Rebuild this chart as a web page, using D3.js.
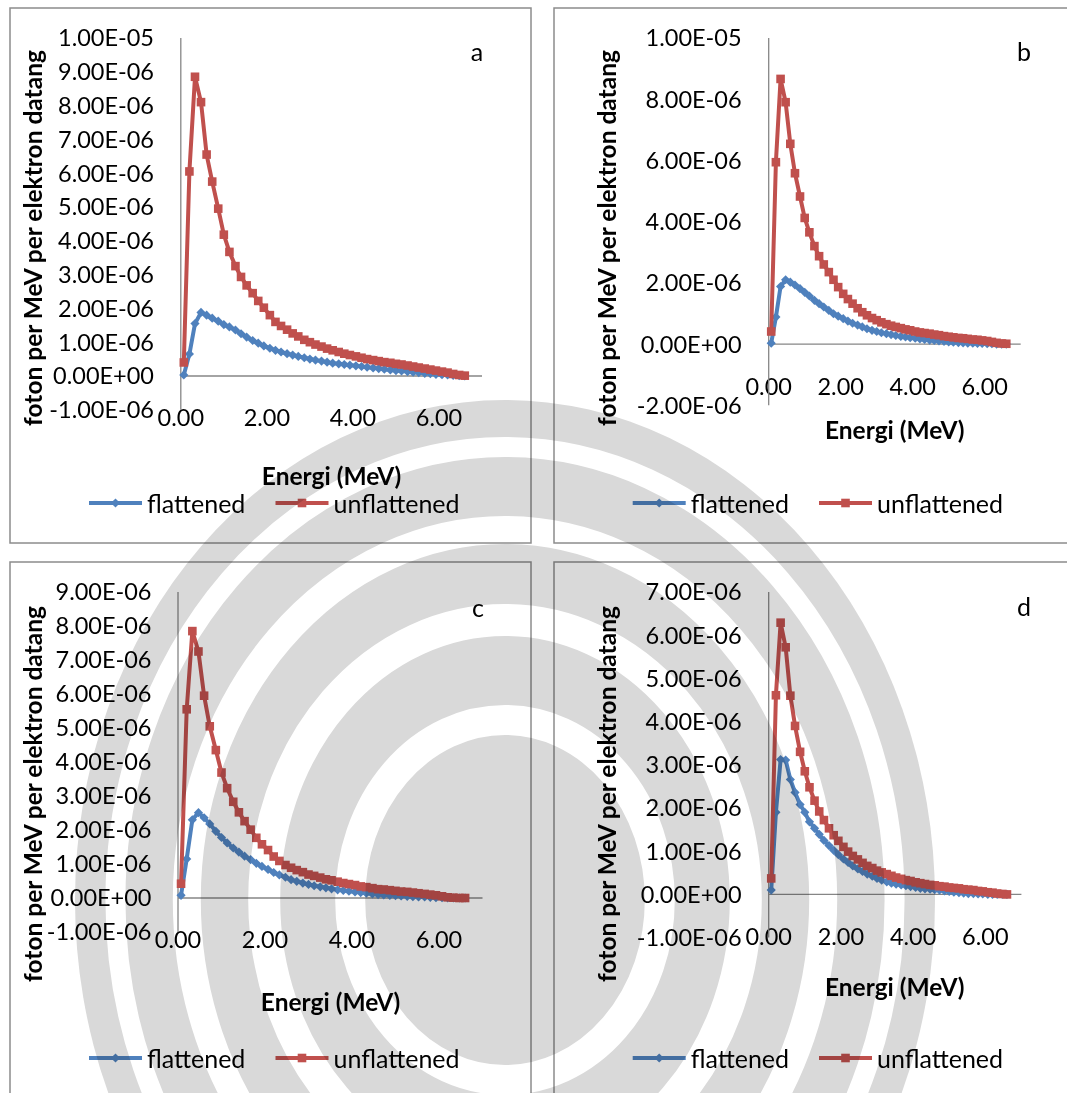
<!DOCTYPE html>
<html>
<head>
<meta charset="utf-8">
<script src="https://cdn.jsdelivr.net/npm/d3@7"></script>
<style>
  body { margin: 0; background: #fff; }
  text { font-family: Lato, "Open Sans", sans-serif; fill: #000; }
  .tick-label { font-size: 23.5px; }
  .axis-title { font-size: 24.5px; font-weight: bold; }
  .legend { font-size: 25px; }
  .panel-letter { font-size: 25px; }
</style>
</head>
<body>
<svg id="chart" width="1067" height="1093"></svg>
<script>
// energy bin centres (MeV), shared by every panel
const energi = [0.07, 0.20, 0.33, 0.47, 0.60, 0.73, 0.87, 1.00, 1.13, 1.27,
                1.40, 1.53, 1.67, 1.80, 1.93, 2.07, 2.20, 2.33, 2.47, 2.60,
                2.73, 2.87, 3.00, 3.13, 3.27, 3.40, 3.53, 3.67, 3.80, 3.93,
                4.07, 4.20, 4.33, 4.47, 4.60, 4.73, 4.87, 5.00, 5.13, 5.27,
                5.40, 5.53, 5.67, 5.80, 5.93, 6.07, 6.20, 6.33, 6.47, 6.60];

// photon fluence, in units of 1e-6 per MeV per incident electron
const flatA = [0.03, 0.65, 1.55, 1.88, 1.80, 1.71, 1.62, 1.52, 1.45, 1.36,
               1.25, 1.15, 1.05, 0.97, 0.89, 0.82, 0.76, 0.71, 0.66, 0.62,
               0.58, 0.54, 0.50, 0.47, 0.44, 0.41, 0.38, 0.36, 0.34, 0.32,
               0.30, 0.28, 0.26, 0.24, 0.22, 0.20, 0.18, 0.16, 0.15, 0.13,
               0.11, 0.10, 0.08, 0.07, 0.05, 0.04, 0.03, 0.02, 0.01, 0.00];
const unflatA = [0.40, 6.05, 8.85, 8.10, 6.55, 5.75, 4.95, 4.18, 3.67, 3.25,
                 2.93, 2.68, 2.45, 2.22, 2.02, 1.80, 1.60, 1.48, 1.37, 1.26,
                 1.17, 1.07, 1.00, 0.93, 0.87, 0.81, 0.76, 0.71, 0.66, 0.62,
                 0.58, 0.54, 0.50, 0.47, 0.44, 0.41, 0.39, 0.36, 0.34, 0.31,
                 0.28, 0.25, 0.22, 0.19, 0.16, 0.13, 0.10, 0.06, 0.03, 0.01];

const flatB = [0.03, 0.88, 1.88, 2.10, 2.02, 1.93, 1.81, 1.69, 1.57, 1.43,
               1.32, 1.21, 1.10, 0.99, 0.91, 0.83, 0.75, 0.68, 0.62, 0.56,
               0.50, 0.45, 0.41, 0.37, 0.34, 0.31, 0.28, 0.25, 0.23, 0.21,
               0.19, 0.17, 0.15, 0.13, 0.12, 0.10, 0.09, 0.07, 0.06, 0.05,
               0.04, 0.03, 0.03, 0.02, 0.02, 0.01, 0.01, 0.00, 0.00, 0.00];
const unflatB = [0.41, 5.94, 8.66, 7.90, 6.54, 5.58, 4.82, 4.12, 3.65, 3.20,
                 2.87, 2.60, 2.35, 2.10, 1.86, 1.64, 1.47, 1.32, 1.17, 1.04,
                 0.94, 0.85, 0.78, 0.71, 0.65, 0.60, 0.56, 0.52, 0.48, 0.45,
                 0.41, 0.38, 0.36, 0.34, 0.31, 0.29, 0.26, 0.24, 0.22, 0.20,
                 0.19, 0.17, 0.15, 0.14, 0.12, 0.10, 0.07, 0.04, 0.02, 0.01];

const flatC = [0.08, 1.15, 2.30, 2.51, 2.36, 2.18, 1.96, 1.78, 1.62, 1.47,
               1.35, 1.23, 1.13, 1.02, 0.93, 0.84, 0.75, 0.68, 0.61, 0.54,
               0.49, 0.44, 0.40, 0.36, 0.33, 0.30, 0.27, 0.24, 0.22, 0.20,
               0.18, 0.16, 0.14, 0.12, 0.10, 0.09, 0.08, 0.07, 0.06, 0.05,
               0.04, 0.03, 0.03, 0.02, 0.01, 0.01, 0.00, 0.00, 0.00, 0.00];
const unflatC = [0.42, 5.55, 7.85, 7.25, 5.95, 5.05, 4.35, 3.69, 3.23, 2.83,
                 2.52, 2.26, 2.01, 1.77, 1.58, 1.41, 1.22, 1.09, 0.97, 0.89,
                 0.82, 0.76, 0.69, 0.65, 0.60, 0.55, 0.52, 0.48, 0.44, 0.41,
                 0.38, 0.34, 0.32, 0.29, 0.26, 0.25, 0.23, 0.21, 0.19, 0.18,
                 0.16, 0.14, 0.12, 0.10, 0.08, 0.05, 0.02, 0.01, 0.00, 0.00];

const flatD = [0.10, 1.90, 3.12, 3.11, 2.66, 2.36, 2.08, 1.90, 1.68, 1.53,
               1.39, 1.25, 1.13, 1.02, 0.92, 0.82, 0.74, 0.66, 0.59, 0.53,
               0.47, 0.42, 0.37, 0.33, 0.29, 0.26, 0.24, 0.22, 0.20, 0.18,
               0.16, 0.14, 0.13, 0.12, 0.11, 0.10, 0.08, 0.07, 0.05, 0.04,
               0.03, 0.02, 0.02, 0.01, 0.01, 0.00, 0.00, 0.00, 0.00, 0.00];
const unflatD = [0.37, 4.61, 6.29, 5.72, 4.60, 3.90, 3.30, 2.85, 2.48, 2.17,
                 1.92, 1.72, 1.53, 1.37, 1.24, 1.10, 0.99, 0.89, 0.81, 0.73,
                 0.66, 0.61, 0.55, 0.51, 0.47, 0.43, 0.39, 0.36, 0.33, 0.31,
                 0.28, 0.26, 0.24, 0.22, 0.21, 0.19, 0.18, 0.16, 0.15, 0.14,
                 0.12, 0.11, 0.10, 0.08, 0.07, 0.05, 0.04, 0.02, 0.01, 0.00];

const xTicks = [0, 2, 4, 6];
const seriesNames = ["flattened", "unflattened"];
const flatColor = "#4F81BD";
const unflatColor = "#C0504D";

// one entry per sub-chart (y values in units of 1e-6)
const panels = [
  {letter: "a", flat: flatA, unflat: unflatA, yMin: -1, yMax: 10, yStep: 1,
   frame: [10, 8, 521, 535], xRange: [180.8, 482], yRange: [409.8, 37.9],
   tickRight: 154, yTitle: [33, 238], xTitle: [331.6, 476.5], legendY: 503,
   legendX: [89, 275.5], letterPos: [477, 52]},
  {letter: "b", flat: flatB, unflat: unflatB, yMin: -2, yMax: 10, yStep: 2,
   frame: [554, 8, 530, 535], xRange: [768.7, 1020.7], yRange: [405.3, 37.9],
   tickRight: 741.6, yTitle: [607, 238], xTitle: [894.7, 430.5], legendY: 503,
   legendX: [632.7, 819], letterPos: [1024, 52]},
  {letter: "c", flat: flatC, unflat: unflatC, yMin: -1, yMax: 9, yStep: 1,
   frame: [10, 562, 521, 545], xRange: [178, 482.5], yRange: [932, 592],
   tickRight: 151.5, yTitle: [33, 794], xTitle: [330.6, 1002], legendY: 1058,
   legendX: [89, 275.5], letterPos: [478, 608]},
  {letter: "d", flat: flatD, unflat: unflatD, yMin: -1, yMax: 7, yStep: 1,
   frame: [554, 562, 530, 545], xRange: [768.7, 1021.4], yRange: [937.6, 592],
   tickRight: 741.6, yTitle: [607, 794], xTitle: [894.7, 987], legendY: 1058,
   legendX: [632.7, 819], letterPos: [1024, 607]}
];

const svg = d3.select("#chart");

// Excel style "0.00E+00"
function sci(v) {
  const s = (v * 1e-6).toExponential(2).split("e");
  const e = +s[1];
  return s[0] + "E" + (e < 0 ? "-" : "+") + String(Math.abs(e)).padStart(2, "0");
}

const diamond = r => `M0,${-r}L${r},0L0,${r}L${-r},0Z`;
const square = r => `M${-r},${-r}H${r}V${r}H${-r}Z`;

function drawMarker(g, shape, color, x, y) {
  g.append("path")
    .attr("d", shape === "diamond" ? diamond(4.6) : square(4.3))
    .attr("transform", `translate(${x},${y})`)
    .attr("fill", color);
}

panels.forEach(p => {
  const g = svg.append("g").attr("class", "panel-" + p.letter);

  // chart frame
  g.append("rect")
    .attr("x", p.frame[0]).attr("y", p.frame[1])
    .attr("width", p.frame[2]).attr("height", p.frame[3])
    .attr("fill", "#fff")
    .attr("stroke", "#8c8c8c")
    .attr("stroke-width", 1.5);

  const x = d3.scaleLinear().domain([0, 7]).range(p.xRange);
  const y = d3.scaleLinear().domain([p.yMin, p.yMax]).range(p.yRange);

  // y tick labels
  const yTicks = d3.range(Math.round((p.yMax - p.yMin) / p.yStep) + 1)
    .map(i => p.yMin + i * p.yStep);
  g.selectAll(".ytick")
    .data(yTicks)
    .join("text")
    .attr("class", "tick-label")
    .attr("x", p.tickRight)
    .attr("y", d => y(d))
    .attr("dy", "0.36em")
    .attr("text-anchor", "end")
    .text(d => sci(d));

  // x tick labels sit well below the zero line
  g.selectAll(".xtick")
    .data(xTicks)
    .join("text")
    .attr("class", "tick-label")
    .attr("x", d => x(d))
    .attr("y", y(0) + 42)
    .attr("dy", "0.36em")
    .attr("text-anchor", "middle")
    .text(d => d.toFixed(2));

  // axes lines
  g.append("line")
    .attr("x1", x(0)).attr("x2", x(0))
    .attr("y1", y(p.yMax)).attr("y2", y(p.yMin))
    .attr("stroke", "#868686").attr("stroke-width", 1.3);
  g.append("line")
    .attr("x1", x(0)).attr("x2", x(7))
    .attr("y1", y(0)).attr("y2", y(0))
    .attr("stroke", "#868686").attr("stroke-width", 1.3);

  const line = d3.line()
    .x((d, i) => x(energi[i]))
    .y(d => y(d));

  // flattened first, unflattened drawn on top
  [[p.flat, flatColor, "diamond"], [p.unflat, unflatColor, "square"]].forEach(([vals, color, shape]) => {
    g.append("path")
      .datum(vals)
      .attr("d", line)
      .attr("fill", "none")
      .attr("stroke", color)
      .attr("stroke-width", 4)
      .attr("stroke-linejoin", "round");
    const mg = g.append("g");
    vals.forEach((v, i) => drawMarker(mg, shape, color, x(energi[i]), y(v)));
  });

  // titles
  g.append("text")
    .attr("class", "axis-title")
    .attr("x", p.xTitle[0]).attr("y", p.xTitle[1])
    .attr("dy", "0.36em")
    .attr("text-anchor", "middle")
    .text("Energi (MeV)");

  g.append("text")
    .attr("class", "axis-title")
    .attr("transform", `translate(${p.yTitle[0]},${p.yTitle[1]}) rotate(-90)`)
    .attr("dy", "0.36em")
    .attr("text-anchor", "middle")
    .text("foton per MeV per elektron datang");

  g.append("text")
    .attr("class", "panel-letter")
    .attr("x", p.letterPos[0]).attr("y", p.letterPos[1])
    .attr("dy", "0.36em")
    .attr("text-anchor", "middle")
    .text(p.letter);

  // legend
  [[flatColor, "diamond"], [unflatColor, "square"]].forEach(([color, shape], i) => {
    const lx = p.legendX[i];
    g.append("line")
      .attr("x1", lx).attr("x2", lx + 53)
      .attr("y1", p.legendY).attr("y2", p.legendY)
      .attr("stroke", color).attr("stroke-width", 4);
    drawMarker(g, shape, color, lx + 26.5, p.legendY);
    g.append("text")
      .attr("class", "legend")
      .attr("x", lx + 58).attr("y", p.legendY + 1)
      .attr("dy", "0.36em")
      .text(seriesNames[i]);
  });
});

// light grey watermark behind the lower half (rough dome with white rings),
// multiplied over the charts like the scanned page
const wm = svg.append("g")
  .style("mix-blend-mode", "multiply")
  .style("isolation", "isolate");
wm.append("ellipse")
  .attr("cx", 505).attr("cy", 900).attr("rx", 430).attr("ry", 500)
  .attr("fill", "#d9d9d9");
const rings = [[0.906, 20], [0.74, 28], [0.56, 32], [0.36, 30]];
rings.forEach(([s, w]) => wm.append("ellipse")
  .attr("cx", 505).attr("cy", 900).attr("rx", 430 * s).attr("ry", 500 * s)
  .attr("fill", "none").attr("stroke", "#fff").attr("stroke-width", w));
</script>
</body>
</html>
